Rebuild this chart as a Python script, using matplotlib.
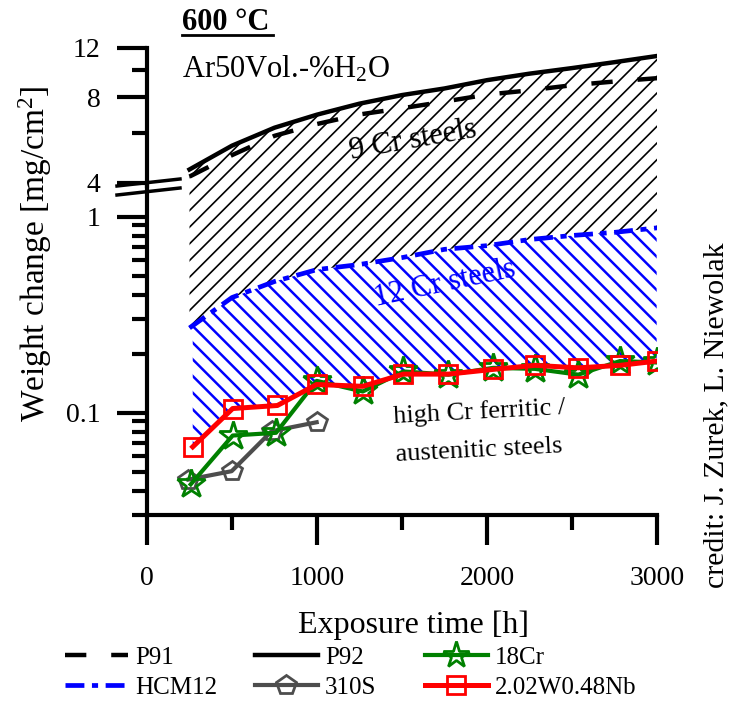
import numpy as np
import matplotlib
matplotlib.use("Agg")
import matplotlib.pyplot as plt
from matplotlib.lines import Line2D
from matplotlib.ticker import FixedLocator, NullFormatter, FixedFormatter

plt.rcParams['font.family'] = ['Liberation Serif', 'DejaVu Serif']
plt.rcParams['mathtext.fontset'] = 'custom'
plt.rcParams['mathtext.rm'] = 'Liberation Serif'
plt.rcParams['mathtext.it'] = 'Liberation Serif:italic'
plt.rcParams['hatch.linewidth'] = 1.3

# ---------------- data ----------------
t_env = [250, 500, 750, 1000, 1250, 1500, 1750, 2000, 2250, 2500, 2750, 3000]
p92 = [4.45, 5.4, 6.25, 6.95, 7.6, 8.15, 8.6, 9.2, 9.7, 10.15, 10.65, 11.2]
p91 = [4.2, 5.0, 5.85, 6.44, 6.96, 7.32, 7.73, 8.18, 8.47, 8.83, 9.1, 9.35]
hcm12 = [0.27, 0.386, 0.466, 0.536, 0.569, 0.617, 0.68, 0.71, 0.763, 0.80, 0.83, 0.875]

t_18cr = [257, 504, 759, 998, 1269, 1508, 1773, 2037, 2282, 2537, 2782, 2998]
cr18 = [0.043, 0.0763, 0.0788, 0.145, 0.128, 0.162, 0.156, 0.169, 0.167, 0.156, 0.183, 0.18]
t_nb = [269, 504, 767, 998, 1269, 1508, 1773, 2037, 2282, 2537, 2782, 2998]
nb = [0.0668, 0.1048, 0.1086, 0.139, 0.136, 0.157, 0.157, 0.166, 0.174, 0.169, 0.174, 0.183]
t_310 = [243, 498, 733, 998]
s310 = [0.0455, 0.0502, 0.0803, 0.0892]

x_major = [0, 1000, 2000, 3000]
x_minor = [500, 1500, 2500]
y_up_major = [4, 8, 12]
y_up_minor = [6, 10]
y_lo_major = [0.1, 1]
y_lo_labels = ['0.1', '1']
y_lo_minor = [0.03, 0.04, 0.05, 0.06, 0.07, 0.08, 0.09, 0.2, 0.3, 0.4, 0.5, 0.6, 0.7, 0.8, 0.9]

# ---------------- layout ----------------
W, H = 730, 727
fig = plt.figure(figsize=(W / 100, H / 100), dpi=100)

def fx(px):
    return px / W

def fy(py):
    return 1 - py / H

left, right = 147, 657
y_top, y_brk, y_bot = 47.5, 186, 515
ax_up = fig.add_axes([fx(left), fy(y_brk), fx(right - left), (y_brk - y_top) / H])
ax_lo = fig.add_axes([fx(left), fy(y_bot), fx(right - left), (y_bot - y_brk) / H])

up_lo_lim, up_hi_lim = 3.89, 12
lo_lo_lim, lo_hi_lim = 0.03, 1.431

for ax in (ax_up, ax_lo):
    ax.set_yscale('log')
    ax.set_xlim(0, 3000)
    ax.patch.set_alpha(0)
    for s in ('top', 'right'):
        ax.spines[s].set_visible(False)
    ax.spines['left'].set_linewidth(3)
    ax.spines['bottom'].set_linewidth(3)
ax_up.spines['bottom'].set_visible(False)
ax_up.set_ylim(up_lo_lim, up_hi_lim)
ax_lo.set_ylim(lo_lo_lim, lo_hi_lim)

# ticks
ax_up.yaxis.set_major_locator(FixedLocator(y_up_major))
ax_up.yaxis.set_major_formatter(FixedFormatter([str(v) for v in y_up_major]))
ax_up.yaxis.set_minor_locator(FixedLocator(y_up_minor))
ax_up.yaxis.set_minor_formatter(NullFormatter())
ax_up.tick_params(axis='x', which='both', bottom=False, labelbottom=False)

ax_lo.yaxis.set_major_locator(FixedLocator(y_lo_major))
ax_lo.yaxis.set_major_formatter(FixedFormatter(y_lo_labels))
ax_lo.yaxis.set_minor_locator(FixedLocator(y_lo_minor))
ax_lo.yaxis.set_minor_formatter(NullFormatter())
ax_lo.xaxis.set_major_locator(FixedLocator(x_major))
ax_lo.xaxis.set_minor_locator(FixedLocator(x_minor))

for ax in (ax_up, ax_lo):
    ax.tick_params(which='major', length=21.5, width=3, labelsize=20, pad=12, direction='out')
    ax.tick_params(which='minor', length=10.5, width=3, direction='out')
ax_lo.tick_params(axis='x', which='major', pad=15)

# ---------------- hatched regions ----------------
def hatch_fill(ax, x, y1, y2, color, hatch, hlw):
    pc = ax.fill_between(x, y1, y2, facecolor='none', edgecolor=color, linewidth=0, hatch=hatch, zorder=1)
    if hasattr(pc, 'set_hatch_linewidth'):
        pc.set_hatch_linewidth(hlw)
    return pc

hatch_fill(ax_up, t_env, up_lo_lim, p92, 'black', '//', 1.2)
hatch_fill(ax_lo, t_env, hcm12, lo_hi_lim, 'black', '//', 1.2)
hcm_at_nb = 10 ** np.interp(t_nb, t_env, np.log10(hcm12))
hatch_fill(ax_lo, t_nb, nb, hcm_at_nb, '#0000ff', '\\\\', 1.8)

# ---------------- lines ----------------
ax_up.plot(t_env, p91, color='black', lw=3.2, ls=(0, (4.8, 5.6)), zorder=3)
ax_up.plot(t_env, p92, color='black', lw=3.2, ls='-', zorder=3)
ax_lo.plot(t_env, hcm12, color='#0000ff', lw=3.4, ls=(0, (4, 1.6, 1.3, 1.6)), zorder=3)
ax_lo.plot(t_310, s310, color='#4d4d4d', lw=3, marker='p', ms=15, mfc='none', mew=2, zorder=4)
ax_lo.plot(t_18cr, cr18, color='#008000', lw=3, marker='*', ms=21, mfc='none', mew=2, zorder=5)
ax_lo.plot(t_nb, nb, color='#ff0000', lw=3.6, marker='s', ms=13, mfc='none', mew=2, zorder=6)

# ---------------- axis break marks ----------------
for dy in (0, 9):
    fig.add_artist(Line2D([fx(117), fx(180)], [fy(186 + dy), fy(179 + dy)], color='black', lw=2.5,
                          transform=fig.transFigure, clip_on=False))

# ---------------- texts ----------------
fig.text(fx(35), fy(254), 'Weight change [mg/cm$^{2}$]', rotation=90, ha='center', va='center', fontsize=24)
fig.text(fx(414), fy(625), 'Exposure time [h]', ha='center', va='center', fontsize=23)

fig.text(fx(182), fy(30), '600 °C', ha='left', va='baseline', fontsize=22, fontweight='bold')
fig.add_artist(Line2D([fx(182), fx(273)], [fy(35), fy(35)], color='black', lw=2,
                      transform=fig.transFigure, clip_on=False))
fig.text(fx(182), fy(78), 'Ar50Vol.-%H$_{2}$O', ha='left', va='baseline', fontsize=22)

fig.text(fx(413), fy(140), '9 Cr steels', ha='center', va='center', fontsize=22, rotation=10)
fig.text(fx(445), fy(284), '12 Cr steels', ha='center', va='center', fontsize=22, rotation=12,
         color='#0000ff')
fig.text(fx(393), fy(412), 'high Cr ferritic /', ha='left', va='center', fontsize=19, rotation=3)
fig.text(fx(395), fy(451), 'austenitic steels', ha='left', va='center', fontsize=19, rotation=3)

fig.text(fx(716), fy(415), 'credit: J. Zurek, L. Niewolak', rotation=90, ha='center', va='center',
         fontsize=21.5)

# ---------------- legend ----------------
h_p91 = Line2D([], [], color='black', lw=3.2, ls=(0, (4.8, 5.6)))
h_p92 = Line2D([], [], color='black', lw=3.2)
h_hcm = Line2D([], [], color='#0000ff', lw=3.4, ls=(0, (4, 1.6, 1.3, 1.6)))
h_310 = Line2D([], [], color='#4d4d4d', lw=3, marker='p', ms=15, mfc='none', mew=2)
h_18 = Line2D([], [], color='#008000', lw=3, marker='*', ms=20, mfc='none', mew=2)
h_nb = Line2D([], [], color='#ff0000', lw=3.6, marker='s', ms=13, mfc='none', mew=2)

leg_kw = dict(frameon=False, fontsize=18, handlelength=2.5, handletextpad=0.3, labelspacing=0.3,
              borderpad=0, borderaxespad=0, loc='upper left')
fig.legend([h_p91, h_hcm], ['P91', 'HCM12'], bbox_to_anchor=(fx(65), fy(646)), **leg_kw)
fig.legend([h_p92, h_310], ['P92', '310S'], bbox_to_anchor=(fx(255), fy(646)), **leg_kw)
fig.legend([h_18, h_nb], ['18Cr', '2.02W0.48Nb'], bbox_to_anchor=(fx(425), fy(646)), **leg_kw)

fig.savefig('out.png', dpi=100)
